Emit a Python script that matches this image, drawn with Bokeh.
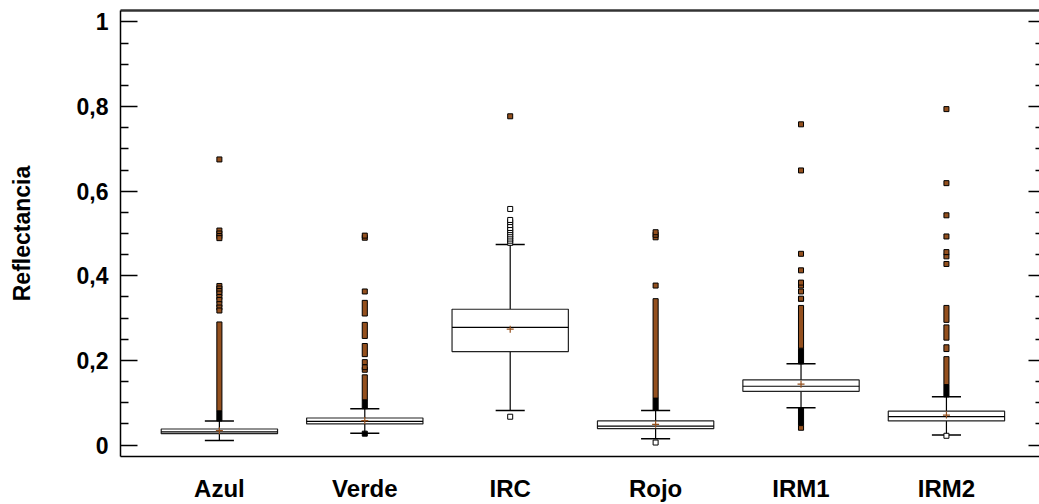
from bokeh.plotting import figure
from bokeh.models import FixedTicker, LinearAxis, Range1d, ColumnDataSource
from bokeh.embed import file_html
from bokeh.resources import INLINE

# ---------------- data ----------------
categories = ["Azul", "Verde", "IRC", "Rojo", "IRM1", "IRM2"]
q1 = [0.027, 0.050, 0.221, 0.039, 0.127, 0.057]
median = [0.031, 0.056, 0.278, 0.045, 0.139, 0.067]
q3 = [0.038, 0.064, 0.321, 0.057, 0.154, 0.080]
mean = [0.034, 0.058, 0.274, 0.049, 0.144, 0.071]
whisker_low = [0.011, 0.028, 0.082, 0.015, 0.088, 0.024]
whisker_high = [0.057, 0.086, 0.474, 0.082, 0.192, 0.114]

# dense runs of overlapping outliers: category index, low, high, kind
run_cat = [0, 0, 1, 1, 1, 1, 1, 3, 3, 4, 4, 4, 4, 4, 5, 5, 5, 5, 5]
run_low = [0.057, 0.081, 0.086, 0.107, 0.209, 0.252, 0.305, 0.082, 0.111,
           0.192, 0.229, 0.046, 0.035, 0.340, 0.114, 0.143, 0.221, 0.248, 0.290]
run_high = [0.081, 0.291, 0.107, 0.166, 0.240, 0.290, 0.342, 0.111, 0.346,
            0.229, 0.330, 0.088, 0.046, 0.350, 0.143, 0.209, 0.237, 0.284, 0.330]
run_kind = ["near", "far", "near", "far", "far", "far", "far", "near", "far",
            "near", "far", "near", "far", "far", "near", "far", "far", "far", "far"]

# individual outliers: category index, value, kind ("far" = brown, "near" = open)
pt_cat = [0, 0, 0, 0, 0, 0, 0, 0, 0, 0, 0, 0, 0, 0,
          1, 1, 1, 1, 1, 1,
          2, 2, 2, 2, 2, 2, 2, 2, 2, 2, 2, 2, 2, 2,
          3, 3, 3, 3, 3,
          4, 4, 4, 4, 4, 4, 4, 4,
          5, 5, 5, 5, 5, 5, 5, 5]
pt_val = [0.376, 0.370, 0.364, 0.358, 0.350, 0.343, 0.333, 0.325, 0.318,
          0.507, 0.500, 0.494, 0.489, 0.675,
          0.178, 0.184, 0.196, 0.363, 0.490, 0.495,
          0.478, 0.483, 0.488, 0.493, 0.498, 0.503, 0.508, 0.513, 0.520, 0.527,
          0.532, 0.558, 0.067, 0.777,
          0.377, 0.491, 0.497, 0.503, 0.006,
          0.363, 0.377, 0.384, 0.413, 0.452, 0.649, 0.758, 0.346,
          0.428, 0.446, 0.456, 0.493, 0.543, 0.619, 0.794, 0.022]
pt_kind = ["far"] * 14 + ["far"] * 6 + ["near"] * 12 + ["near", "far"] + \
          ["far", "far", "far", "far", "near"] + ["far"] * 8 + ["far"] * 7 + ["near"]
low_near_cat = [1]
low_near_val = [0.027]

y_ticks = [0, 0.2, 0.4, 0.6, 0.8, 1]
y_tick_labels = ["0", "0,2", "0,4", "0,6", "0,8", "1"]
y_minor = [0.05, 0.1, 0.15, 0.25, 0.3, 0.35, 0.45, 0.5, 0.55, 0.65, 0.7, 0.75,
           0.85, 0.9, 0.95]

# ---------------- styling ----------------
BROWN = "#94501e"
FONT = "Liberation Sans"
BOX_HALF = 0.4
CAP_HALF = 0.1
COL_W = 0.035

xpos = [i + 1 for i in range(len(categories))]

box_src = ColumnDataSource(dict(
    x=xpos, left=[x - BOX_HALF for x in xpos], right=[x + BOX_HALF for x in xpos],
    q1=q1, q3=q3, med=median, mean=mean, lo=whisker_low, hi=whisker_high,
    cl=[x - CAP_HALF for x in xpos], cr=[x + CAP_HALF for x in xpos],
))

p = figure(width=1039, height=504, output_backend="svg", toolbar_location=None,
           x_range=Range1d(0.32, 6.64), y_range=Range1d(-0.027, 1.027),
           min_border_left=120, min_border_right=0, min_border_top=10,
           min_border_bottom=45, background_fill_color="white",
           border_fill_color="white")
p.outline_line_color = None
p.xgrid.visible = False
p.ygrid.visible = False

# whiskers and caps
p.segment(x0="x", y0="q3", x1="x", y1="hi", source=box_src, line_color="black", line_width=1.2)
p.segment(x0="x", y0="q1", x1="x", y1="lo", source=box_src, line_color="black", line_width=1.2)
p.segment(x0="cl", y0="hi", x1="cr", y1="hi", source=box_src, line_color="black", line_width=1.5)
p.segment(x0="cl", y0="lo", x1="cr", y1="lo", source=box_src, line_color="black", line_width=1.5)

# outlier runs
run_x = [xpos[c] for c in run_cat]
run_fill = [BROWN if k == "far" else "black" for k in run_kind]
p.vbar(x=run_x, width=COL_W, bottom=run_low, top=run_high, fill_color=run_fill,
       line_color="black", line_width=1)

# individual outliers
pt_x = [xpos[c] for c in pt_cat]
pt_fill = [BROWN if k == "far" else "white" for k in pt_kind]
p.scatter(x=pt_x, y=pt_val, marker="square", size=5, fill_color=pt_fill,
          line_color="black", line_width=1)
p.scatter(x=[xpos[c] for c in low_near_cat], y=low_near_val, marker="square",
          size=5, fill_color="black", line_color="black")

# boxes
p.quad(left="left", right="right", bottom="q1", top="q3", source=box_src,
       fill_color="white", line_color="#222222", line_width=1.2)
p.segment(x0="left", y0="med", x1="right", y1="med", source=box_src,
          line_color="black", line_width=1.2)
p.scatter(x="x", y="mean", source=box_src, marker="cross", size=7,
          line_color=BROWN, line_width=1.2)

# axes
yticker = FixedTicker(ticks=y_ticks, minor_ticks=y_minor)
ya = p.yaxis[0]
ya.ticker = yticker
ya.major_label_overrides = {v: s for v, s in zip(y_ticks, y_tick_labels)}
ya.major_tick_in = 17
ya.major_tick_out = 0
ya.minor_tick_in = 8
ya.minor_tick_out = 0
ya.major_label_standoff = 12
ya.axis_line_width = 1.5
ya.major_tick_line_width = 1.5
ya.minor_tick_line_width = 1.5
ya.major_label_text_font = FONT
ya.major_label_text_font_style = "bold"
ya.major_label_text_font_size = "23px"
ya.major_label_text_color = "black"
ya.axis_label = "Reflectancia"
ya.axis_label_text_font = FONT
ya.axis_label_text_font_style = "bold"
ya.axis_label_text_font_size = "23px"
ya.axis_label_text_color = "black"
ya.axis_label_standoff = 39

xa = p.xaxis[0]
xa.ticker = FixedTicker(ticks=xpos, minor_ticks=[])
xa.major_label_overrides = {x: c for x, c in zip(xpos, categories)}
xa.major_tick_in = 0
xa.major_tick_out = 0
xa.minor_tick_in = 0
xa.minor_tick_out = 0
xa.major_label_standoff = 18
xa.axis_line_width = 1.5
xa.major_label_text_font = FONT
xa.major_label_text_font_style = "bold"
xa.major_label_text_font_size = "24px"
xa.major_label_text_color = "black"

top = LinearAxis(ticker=FixedTicker(ticks=[], minor_ticks=[]), axis_line_width=2.5,
                 axis_line_color="#333333", major_label_standoff=0,
                 major_label_text_font_size="0px", major_tick_out=0, major_tick_in=0,
                 minor_tick_out=0, minor_tick_in=0)
p.add_layout(top, "above")

right = LinearAxis(ticker=FixedTicker(ticks=y_ticks, minor_ticks=y_minor),
                   axis_line_color=None, major_label_standoff=0,
                   major_label_text_font_size="0px",
                   major_label_overrides={v: "" for v in y_ticks},
                   major_tick_out=0, major_tick_in=11, minor_tick_out=0, minor_tick_in=4,
                   major_tick_line_width=1.5, minor_tick_line_width=1.5)
p.add_layout(right, "right")

open("out.html", "w").write(file_html(p, INLINE))
